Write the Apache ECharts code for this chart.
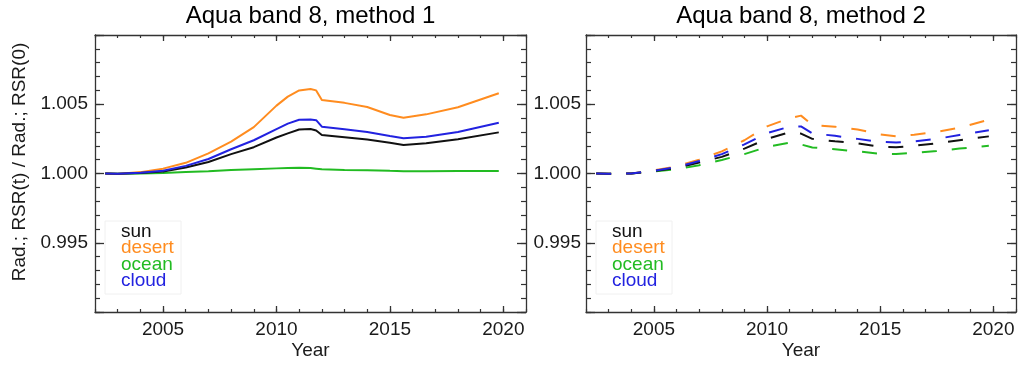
<!DOCTYPE html>
<html>
<head>
<meta charset="utf-8">
<script src="https://cdn.jsdelivr.net/npm/echarts@6/dist/echarts.min.js"></script>
<style>
html,body{margin:0;padding:0;background:#fff;}
#chart{width:1019px;height:365px;}
</style>
</head>
<body>
<div id="chart"></div>
<script>
// ---- Data ----
const titles = ['Aqua band 8, method 1', 'Aqua band 8, method 2'];
const seriesNames = ['sun', 'desert', 'ocean', 'cloud'];
const xTickLabels = [2005, 2010, 2015, 2020];
const yTickLabels = [0.995, 1.000, 1.005];

// Method 1 (solid)
const years1  = [2002.45, 2003, 2004, 2005, 2006, 2007, 2008, 2009, 2010, 2010.5, 2011, 2011.5, 2011.75, 2012, 2013, 2014, 2015, 2015.6, 2016.6, 2018, 2019.8];
const sun1    = [1.00000, 0.99998, 1.00004, 1.00015, 1.00043, 1.00083, 1.00140, 1.00190, 1.00260, 1.00290, 1.00318, 1.00321, 1.00310, 1.00278, 1.00262, 1.00245, 1.00222, 1.00206, 1.00218, 1.00248, 1.00297];
const desert1 = [1.00000, 0.99997, 1.00010, 1.00035, 1.00077, 1.00145, 1.00230, 1.00335, 1.00490, 1.00555, 1.00600, 1.00610, 1.00600, 1.00530, 1.00510, 1.00480, 1.00422, 1.00403, 1.00427, 1.00478, 1.00579];
const ocean1  = [1.00000, 0.99999, 1.00000, 1.00003, 1.00010, 1.00017, 1.00025, 1.00031, 1.00037, 1.00040, 1.00042, 1.00040, 1.00035, 1.00030, 1.00026, 1.00023, 1.00019, 1.00017, 1.00017, 1.00018, 1.00018];
const cloud1  = [1.00000, 0.99998, 1.00005, 1.00020, 1.00055, 1.00105, 1.00175, 1.00240, 1.00320, 1.00360, 1.00388, 1.00390, 1.00385, 1.00338, 1.00320, 1.00300, 1.00270, 1.00254, 1.00266, 1.00300, 1.00367];

// Method 2 (dashed)
const years2  = [2002.45, 2003, 2004, 2005, 2006, 2007, 2008, 2009, 2010, 2011, 2011.5, 2012, 2013, 2014, 2015, 2015.7, 2016.5, 2017.5, 2018.5, 2019.8];
const sun2    = [1.00000, 0.99998, 1.00000, 1.00018, 1.00040, 1.00080, 1.00120, 1.00180, 1.00250, 1.00298, 1.00288, 1.00250, 1.00232, 1.00218, 1.00192, 1.00190, 1.00200, 1.00218, 1.00240, 1.00268];
const desert2 = [1.00000, 0.99998, 1.00000, 1.00022, 1.00052, 1.00100, 1.00160, 1.00240, 1.00340, 1.00400, 1.00418, 1.00350, 1.00338, 1.00318, 1.00282, 1.00268, 1.00280, 1.00300, 1.00330, 1.00388];
const ocean2  = [1.00000, 0.99998, 1.00000, 1.00015, 1.00030, 1.00060, 1.00098, 1.00140, 1.00192, 1.00222, 1.00210, 1.00188, 1.00175, 1.00160, 1.00142, 1.00140, 1.00150, 1.00162, 1.00180, 1.00200];
const cloud2  = [1.00000, 0.99998, 1.00000, 1.00020, 1.00046, 1.00090, 1.00140, 1.00210, 1.00292, 1.00338, 1.00340, 1.00290, 1.00272, 1.00250, 1.00228, 1.00224, 1.00232, 1.00250, 1.00278, 1.00312];

// ---- Chart ----
const colors = {sun: '#111111', desert: '#ff8c1f', ocean: '#22bb22', cloud: '#2222e0'};
const FONT = 'Liberation Sans, Arial, Helvetica, sans-serif';
const TXT = '#1a1a1a';
const AX = '#333333';

const grids = [
  {left: 95, right: 1019 - 526, top: 35, bottom: 365 - 312},
  {left: 586, right: 1019 - 1016, top: 35, bottom: 365 - 312}
];

const xAxes = [], yAxes = [];
function addAxes(gi) {
  const base = {type: 'value', gridIndex: gi, min: 2002, max: 2021, splitLine: {show: false}};
  // bottom major with labels
  xAxes.push(Object.assign({}, base, {
    position: 'bottom',
    axisLine: {show: true, onZero: false, lineStyle: {color: AX, width: 1.3}},
    axisTick: {show: true, inside: true, length: 6, customValues: xTickLabels, lineStyle: {color: AX, width: 1.3}},
    axisLabel: {show: true, customValues: xTickLabels, margin: 8, fontSize: 19, fontFamily: FONT, color: TXT, formatter: v => String(v)}
  }));
  // bottom minor
  xAxes.push(Object.assign({}, base, {
    position: 'bottom', interval: 1,
    axisLine: {show: false, onZero: false},
    axisTick: {show: true, inside: true, length: 3, lineStyle: {color: AX, width: 1.2}},
    axisLabel: {show: false}
  }));
  // top major
  xAxes.push(Object.assign({}, base, {
    position: 'top',
    axisLine: {show: true, onZero: false, lineStyle: {color: AX, width: 1.3}},
    axisTick: {show: true, inside: true, length: 6, customValues: xTickLabels, lineStyle: {color: AX, width: 1.3}},
    axisLabel: {show: false}
  }));
  // top minor
  xAxes.push(Object.assign({}, base, {
    position: 'top', interval: 1,
    axisLine: {show: false, onZero: false},
    axisTick: {show: true, inside: true, length: 3, lineStyle: {color: AX, width: 1.2}},
    axisLabel: {show: false}
  }));

  const ybase = {type: 'value', gridIndex: gi, min: 0.990, max: 1.010, splitLine: {show: false}};
  yAxes.push(Object.assign({}, ybase, {
    position: 'left', interval: 0.005,
    axisLine: {show: true, onZero: false, lineStyle: {color: AX, width: 1.3}},
    axisTick: {show: true, inside: true, length: 9, lineStyle: {color: AX, width: 1.3}},
    axisLabel: {show: true, margin: gi === 0 ? 7 : 5, fontSize: 19, fontFamily: FONT, color: TXT,
      formatter: v => yTickLabels.some(t => Math.abs(t - v) < 1e-7) ? v.toFixed(3) : ''}
  }));
  yAxes.push(Object.assign({}, ybase, {
    position: 'left', interval: 0.001,
    axisLine: {show: false, onZero: false},
    axisTick: {show: true, inside: true, length: 5, lineStyle: {color: AX, width: 1.2}},
    axisLabel: {show: false}
  }));
  yAxes.push(Object.assign({}, ybase, {
    position: 'right', interval: 0.005,
    axisLine: {show: true, onZero: false, lineStyle: {color: AX, width: 1.3}},
    axisTick: {show: true, inside: true, length: 9, lineStyle: {color: AX, width: 1.3}},
    axisLabel: {show: false}
  }));
  yAxes.push(Object.assign({}, ybase, {
    position: 'right', interval: 0.001,
    axisLine: {show: false, onZero: false},
    axisTick: {show: true, inside: true, length: 5, lineStyle: {color: AX, width: 1.2}},
    axisLabel: {show: false}
  }));
}
addAxes(0);
addAxes(1);

function mk(name, xs, ys, gi, dashed) {
  return {
    type: 'line', name: name,
    xAxisIndex: gi * 4, yAxisIndex: gi * 4,
    data: xs.map((x, i) => [x, ys[i]]),
    showSymbol: false, symbol: 'none', silent: true, animation: false,
    lineStyle: {color: colors[name], width: 2, type: dashed ? [15, 15] : 'solid'},
    clip: true
  };
}

const series = [
  mk('ocean', years1, ocean1, 0, false),
  mk('desert', years1, desert1, 0, false),
  mk('sun', years1, sun1, 0, false),
  mk('cloud', years1, cloud1, 0, false),
  mk('ocean', years2, ocean2, 1, true),
  mk('desert', years2, desert2, 1, true),
  mk('sun', years2, sun2, 1, true),
  mk('cloud', years2, cloud2, 1, true)
];

const graphic = [];
const plotCenters = [(95 + 526) / 2, (586 + 1016) / 2];
const plotLefts = [95, 586];
plotCenters.forEach((cx, gi) => {
  graphic.push({type: 'text', x: cx, y: 16, style: {text: titles[gi], font: '24px ' + FONT, fill: '#000', align: 'center', verticalAlign: 'middle'}});
  graphic.push({type: 'text', x: cx, y: 351, style: {text: 'Year', font: '19px ' + FONT, fill: TXT, align: 'center', verticalAlign: 'middle'}});
  const lx = plotLefts[gi];
  graphic.push({type: 'rect', shape: {x: lx + 10, y: 221, width: 76, height: 73}, style: {fill: '#fff', stroke: '#f0f0f0', lineWidth: 1}, z: 10});
  seriesNames.forEach((n, k) => {
    graphic.push({type: 'text', x: lx + 26, y: 231.7 + k * 16.4, z: 11,
      style: {text: n, font: '19px ' + FONT, fill: colors[n], align: 'left', verticalAlign: 'middle'}});
  });
});
graphic.push({type: 'text', x: 19.5, y: 162, rotation: Math.PI / 2,
  style: {text: 'Rad.; RSR(t) / Rad.; RSR(0)', font: '19px ' + FONT, fill: TXT, align: 'center', verticalAlign: 'middle'}});

const chart = echarts.init(document.getElementById('chart'), null, {renderer: 'canvas'});
chart.setOption({
  animation: false,
  backgroundColor: '#fff',
  grid: grids,
  xAxis: xAxes,
  yAxis: yAxes,
  series: series,
  graphic: graphic
});
</script>
</body>
</html>
